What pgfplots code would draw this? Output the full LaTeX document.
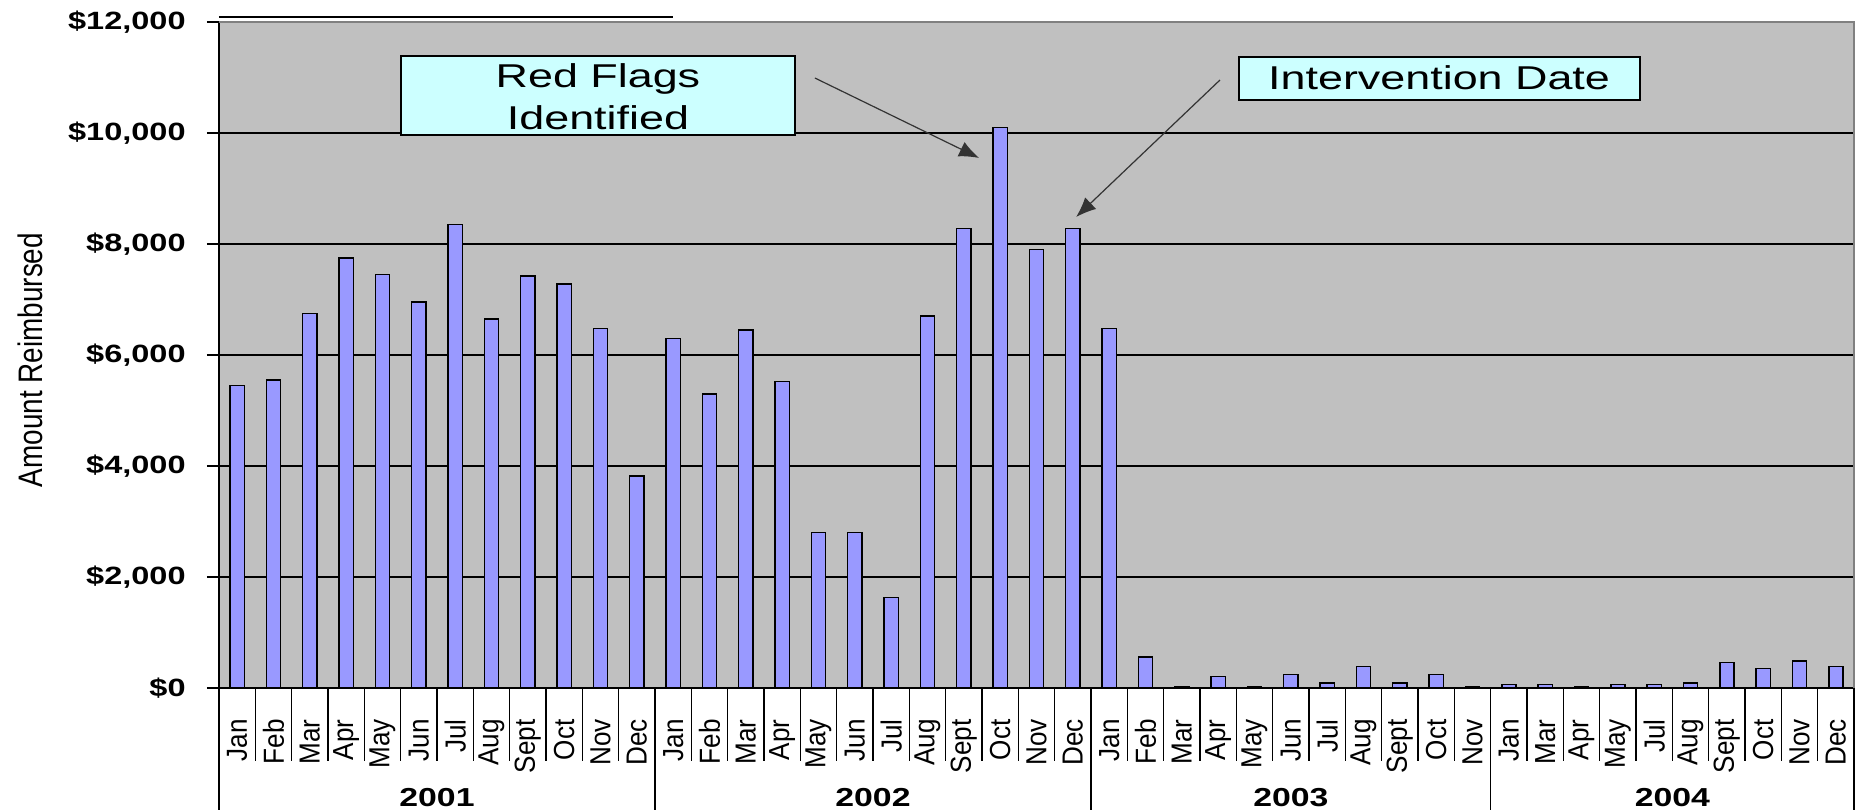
\documentclass[border=0pt]{standalone}
\usepackage{pgfplots}
\pgfplotsset{compat=1.18}
\usetikzlibrary{arrows.meta}
\usepackage{fontspec}
\setmainfont{Liberation Sans}
\newfontfamily\tickfont[FakeStretch=1.3]{Liberation Sans}
\newfontfamily\annfont[FakeStretch=1.36]{Liberation Sans}
\newfontfamily\monfont[FakeStretch=0.9]{Liberation Sans}
\newfontfamily\ylabfont[FakeStretch=0.82]{Liberation Sans}
\definecolor{plotgray}{HTML}{C0C0C0}
\definecolor{barblue}{HTML}{9999FF}
\definecolor{annbg}{HTML}{CCFFFF}

\begin{document}
\begin{tikzpicture}
\path[use as bounding box] (-109.5pt,-61pt) rectangle (821.5pt,344pt);
\begin{axis}[
  scale only axis, width=817.5pt, height=333pt,
  xmin=-0.5, xmax=44.5, ymin=0, ymax=12000,
  clip=false,
  scaled y ticks=false, scaled x ticks=false,
  axis x line*=bottom, axis y line*=left,
  axis line style={black, line width=1pt},
  axis background/.style={fill=plotgray},
  ymajorgrids, grid style={black, line width=0.8pt},
  tick align=outside, major tick length=6pt,
  ytick={0,2000,4000,6000,8000,10000,12000},
  yticklabels={\$0,{\$2,000},{\$4,000},{\$6,000},{\$8,000},{\$10,000},{\$12,000}},
  ytick style={black, line width=0.8pt},
  yticklabel style={font=\tickfont\bfseries\fontsize{12.5}{14}\selectfont, anchor=east, inner sep=0pt},
  yticklabel shift=10.5pt,
  xtick={0,...,44},
  xticklabels={Jan,Feb,Mar,Apr,May,Jun,Jul,Aug,Sept,Oct,Nov,Dec,
               Jan,Feb,Mar,Apr,May,Jun,Jul,Aug,Sept,Oct,Nov,Dec,
               Jan,Feb,Mar,Apr,May,Jun,Jul,Aug,Sept,Oct,Nov,
               Jan,Mar,Apr,May,Jul,Aug,Sept,Oct,Nov,Dec},
  xtick style={draw=none},
  xticklabel style={rotate=90, anchor=east, inner sep=0pt, font=\monfont\fontsize{14.5}{16}\selectfont},
  xticklabel shift=9.5pt,
  ylabel={Amount Reimbursed},
  every axis y label/.style={at={(axis description cs:-0.1156,0.4925)}, rotate=90, anchor=center,
    font=\ylabfont\fontsize{17}{19}\selectfont},
]
\addplot[ybar, bar width=7.15pt, fill=barblue, draw=black, line width=0.8pt] coordinates {
 (0,5450) (1,5550) (2,6750) (3,7750) (4,7450) (5,6950) (6,8350) (7,6650) (8,7420) (9,7280) (10,6480) (11,3820)
 (12,6300) (13,5300) (14,6450) (15,5520) (16,2800) (17,2800) (18,1630) (19,6700) (20,8280) (21,10100) (22,7900) (23,8280)
 (24,6480) (25,560) (26,30) (27,210) (28,30) (29,240) (30,90) (31,385) (32,90) (33,240) (34,30)
 (35,60) (36,60) (37,30) (38,60) (39,60) (40,90) (41,460) (42,350) (43,490) (44,385)
};
% plot frame (top and right, gray)
\draw[gray, line width=0.8pt] (rel axis cs:0,1) -- (rel axis cs:1,1) -- (rel axis cs:1,0);
\draw[black, line width=0.8pt] ([yshift=2.5pt]rel axis cs:0,1) -- ([yshift=2.5pt]axis cs:12,12000);
% month separators
\pgfplotsinvokeforeach{-0.5,0.5,...,44.5}{
  \draw[black, line width=0.8pt] (axis cs:#1,0) -- ([yshift=-36.5pt]axis cs:#1,0);
}
% year separators
\pgfplotsinvokeforeach{-0.5,11.5,23.5,34.5,44.5}{
  \draw[black, line width=0.8pt] (axis cs:#1,0) -- ([yshift=-61pt]axis cs:#1,0);
}
% year labels
\node[font=\tickfont\bfseries\fontsize{13}{15}\selectfont] at ([yshift=-55pt]axis cs:5.5,0) {2001};
\node[font=\tickfont\bfseries\fontsize{13}{15}\selectfont] at ([yshift=-55pt]axis cs:17.5,0) {2002};
\node[font=\tickfont\bfseries\fontsize{13}{15}\selectfont] at ([yshift=-55pt]axis cs:29,0) {2003};
\node[font=\tickfont\bfseries\fontsize{13}{15}\selectfont] at ([yshift=-55pt]axis cs:39.5,0) {2004};
% annotations
\draw[black, line width=0.9pt, fill=annbg] (axis cs:4.51,9964) rectangle (axis cs:15.35,11387);
\node[align=center, font=\annfont\fontsize{16.5}{21}\selectfont] at (axis cs:9.93,10660) {Red Flags\\Identified};
\draw[black, line width=0.9pt, fill=annbg] (axis cs:27.58,10595) rectangle (axis cs:38.61,11376);
\node[font=\annfont\fontsize{16.5}{19}\selectfont] at (axis cs:33.08,10991) {Intervention Date};
\draw[black!80, line width=0.6pt, -{Latex[length=10pt, width=8pt]}] (axis cs:15.9,10991) -- (axis cs:20.42,9550);
\draw[black!80, line width=0.6pt, -{Latex[length=10pt, width=8pt]}] (axis cs:27.05,10955) -- (axis cs:23.09,8486);
\end{axis}
\end{tikzpicture}
\end{document}
